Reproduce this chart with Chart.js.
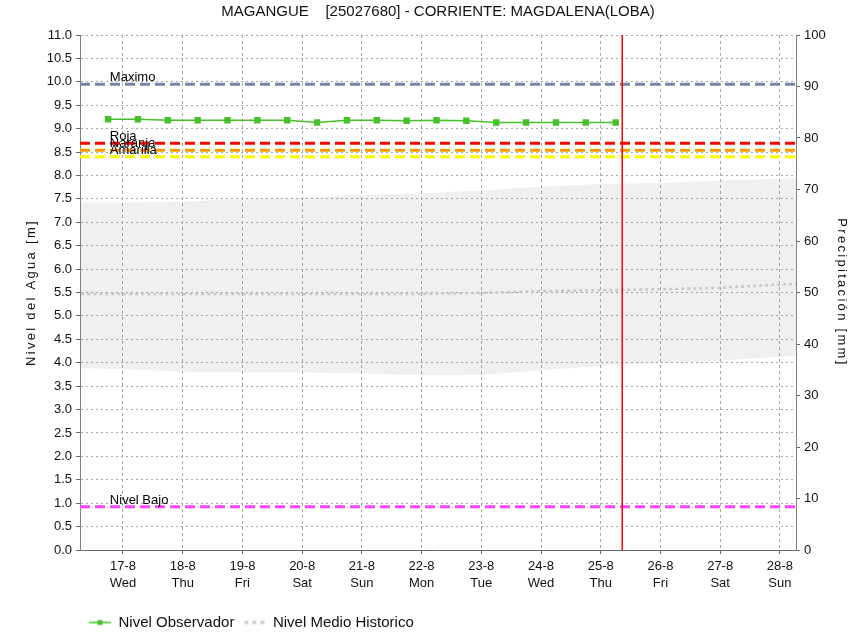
<!DOCTYPE html>
<html>
<head>
<meta charset="utf-8">
<script src="https://cdn.jsdelivr.net/npm/chart.js@4.4.0/dist/chart.umd.min.js"></script>
<style>
  html, body { margin: 0; padding: 0; background: #fff; }
  #wrap { width: 854px; height: 634px; }
</style>
</head>
<body>
<div id="wrap"><canvas id="nivelChart" width="854" height="634"></canvas></div>
<script>
// x values are days of August (17.5 = 17-8 12:00)
const xMin = 16.28;
const xMax = 28.27;
const dayTicks = [17, 18, 19, 20, 21, 22, 23, 24, 25, 26, 27, 28];
const dayLabels = ['17-8', '18-8', '19-8', '20-8', '21-8', '22-8', '23-8', '24-8', '25-8', '26-8', '27-8', '28-8'];
const weekDays = ['Wed', 'Thu', 'Fri', 'Sat', 'Sun', 'Mon', 'Tue', 'Wed', 'Thu', 'Fri', 'Sat', 'Sun'];
const levelTicks = [0, 0.5, 1, 1.5, 2, 2.5, 3, 3.5, 4, 4.5, 5, 5.5, 6, 6.5, 7, 7.5, 8, 8.5, 9, 9.5, 10, 10.5, 11];
const rainTicks = [0, 10, 20, 30, 40, 50, 60, 70, 80, 90, 100];

const obsTimes = [16.75, 17.25, 17.75, 18.25, 18.75, 19.25, 19.75, 20.25, 20.75,
                  21.25, 21.75, 22.25, 22.75, 23.25, 23.75, 24.25, 24.75, 25.25];
const obsLevels = [9.20, 9.20, 9.18, 9.18, 9.18, 9.18, 9.18, 9.13, 9.18,
                   9.18, 9.17, 9.18, 9.17, 9.13, 9.13, 9.13, 9.13, 9.13];

const histTimes = [16, 17, 18, 19, 20, 21, 22, 23, 24, 25, 26, 27, 28, 29];
const histHigh = [7.42, 7.42, 7.44, 7.50, 7.53, 7.58, 7.62, 7.68, 7.76, 7.82, 7.84, 7.89, 7.93, 7.96];
const histLow = [3.90, 3.86, 3.81, 3.79, 3.79, 3.77, 3.73, 3.74, 3.84, 3.93, 3.99, 4.05, 4.13, 4.18];
const histMean = [5.47, 5.47, 5.47, 5.47, 5.47, 5.47, 5.47, 5.49, 5.53, 5.55, 5.57, 5.60, 5.67, 5.72];

const alertNames = ['Maximo', 'Roja', 'Naranja', 'Amarilla', 'Nivel Bajo'];
const alertLevels = [9.95, 8.69, 8.54, 8.40, 0.925];
const alertColors = ['#7a82a8', '#ff0000', '#ff9900', '#ffff00', '#ff44ff'];

const nowTime = 25.36;

const fontFamily = '"Liberation Sans", Arial, sans-serif';
const green = '#47c12b';
const meanGray = '#c8c8c8';

function pairs(xs, ys) {
  return xs.map((x, i) => ({ x: x, y: ys[i] }));
}

// small legend symbols (line with marker / dashed line), with an empty left margin
function legendIcon(draw) {
  const c = document.createElement('canvas');
  c.width = 30;
  c.height = 8;
  draw(c.getContext('2d'));
  return c;
}
const obsIcon = legendIcon(g => {
  g.strokeStyle = green;
  g.lineWidth = 1.5;
  g.beginPath(); g.moveTo(8, 4); g.lineTo(30, 4); g.stroke();
  g.fillStyle = green;
  g.fillRect(16.5, 1.5, 5, 5);
});
const meanIcon = legendIcon(g => {
  g.strokeStyle = meanGray;
  g.lineWidth = 3;
  g.setLineDash([4, 4]);
  g.beginPath(); g.moveTo(9, 4); g.lineTo(30, 4); g.stroke();
});

const alertSets = alertNames.map((name, i) => ({
  label: name,
  data: [{ x: xMin, y: alertLevels[i] }, { x: xMax, y: alertLevels[i] }],
  borderColor: alertColors[i],
  borderWidth: 3,
  borderDash: [10, 5],
  pointRadius: 0,
  order: 3
}));

// alert names above their lines + spaced axis titles
const extraText = {
  id: 'extraText',
  afterDatasetsDraw(chart) {
    const { ctx, scales } = chart;
    ctx.save();
    ctx.font = '13px ' + fontFamily;
    ctx.fillStyle = '#000';
    ctx.textBaseline = 'alphabetic';
    alertNames.forEach((name, i) => {
      ctx.fillText(name, scales.x.getPixelForValue(16.78), scales.y.getPixelForValue(alertLevels[i]) - 3);
    });
    ctx.restore();
  },
  afterDraw(chart) {
    const { ctx, chartArea } = chart;
    const midY = (chartArea.top + chartArea.bottom) / 2;
    ctx.save();
    ctx.font = '13px ' + fontFamily;
    ctx.fillStyle = '#111';
    ctx.letterSpacing = '2.3px';
    ctx.textAlign = 'center';
    ctx.textBaseline = 'middle';
    ctx.save();
    ctx.translate(31, midY);
    ctx.rotate(-Math.PI / 2);
    ctx.fillText('Nivel del Agua [m]', 0, 0);
    ctx.restore();
    ctx.translate(842, midY);
    ctx.rotate(Math.PI / 2);
    ctx.fillText('Precipitación [mm]', 0, 0);
    ctx.restore();
  }
};

const ctx = document.getElementById('nivelChart').getContext('2d');

new Chart(ctx, {
  type: 'line',
  data: {
    datasets: [
      {
        label: 'Nivel Observador',
        data: pairs(obsTimes, obsLevels),
        borderColor: green,
        backgroundColor: green,
        borderWidth: 1.5,
        pointStyle: 'rect',
        pointRadius: 3.5,
        tension: 0,
        order: 0
      },
      {
        label: 'Nivel Medio Historico',
        data: pairs(histTimes, histMean),
        borderColor: meanGray,
        borderWidth: 2.5,
        borderDash: [3, 3],
        pointRadius: 0,
        order: 5
      },
      {
        label: 'Rango alto',
        data: pairs(histTimes, histHigh),
        borderColor: 'rgba(0,0,0,0)',
        borderWidth: 1,
        pointRadius: 0,
        backgroundColor: 'rgba(128,128,128,0.12)',
        fill: '+1',
        order: 9
      },
      {
        label: 'Rango bajo',
        data: pairs(histTimes, histLow),
        borderColor: 'rgba(0,0,0,0)',
        borderWidth: 1,
        pointRadius: 0,
        fill: false,
        order: 9
      },
      ...alertSets,
      {
        label: 'Ahora',
        data: [{ x: nowTime, y: 0 }, { x: nowTime, y: 11 }],
        borderColor: '#ff0000',
        borderWidth: 1.5,
        pointRadius: 0,
        order: 1
      }
    ]
  },
  options: {
    responsive: false,
    animation: false,
    layout: { padding: { top: 0, left: 0, right: 0, bottom: -6 } },
    scales: {
      x: {
        type: 'linear',
        min: xMin,
        max: xMax,
        afterBuildTicks: s => { s.ticks = dayTicks.map(v => ({ value: v })); },
        afterFit: s => { s.height = 64; },
        grid: {
          color: '#a8a8a8',
          tickLength: 4,
          tickColor: '#666',
          tickBorderDash: []
        },
        border: { color: '#666', width: 1, dash: [3, 3] },
        ticks: {
          autoSkip: false,
          maxRotation: 0,
          padding: 4,
          color: '#111',
          font: { family: fontFamily, size: 13, lineHeight: 1.3 },
          callback: (v, i) => [dayLabels[i], weekDays[i]]
        }
      },
      y: {
        position: 'left',
        min: 0,
        max: 11,
        afterBuildTicks: s => { s.ticks = levelTicks.map(v => ({ value: v })); },
        afterFit: s => { s.width = 80; },
        grid: {
          color: '#a8a8a8',
          tickLength: 4,
          tickColor: '#666',
          tickBorderDash: []
        },
        border: { color: '#808080', width: 1, dash: [2, 3] },
        ticks: {
          autoSkip: false,
          padding: 4,
          color: '#111',
          font: { family: fontFamily, size: 13 },
          callback: v => v.toFixed(1)
        }
      },
      yRain: {
        position: 'right',
        min: 0,
        max: 100,
        afterBuildTicks: s => { s.ticks = rainTicks.map(v => ({ value: v })); },
        afterFit: s => { s.width = 58; },
        grid: {
          drawOnChartArea: false,
          tickLength: 4,
          tickColor: '#666'
        },
        border: { color: '#808080', width: 1 },
        ticks: {
          autoSkip: false,
          padding: 4,
          color: '#111',
          font: { family: fontFamily, size: 13 }
        }
      }
    },
    plugins: {
      title: {
        display: true,
        fullSize: false,
        text: 'MAGANGUE    [25027680] - CORRIENTE: MAGDALENA(LOBA)',
        color: '#111',
        padding: { top: 3, bottom: 14 },
        font: { family: fontFamily, size: 15, weight: 'normal' }
      },
      legend: {
        display: true,
        position: 'bottom',
        align: 'start',
        fullSize: false,
        labels: {
          color: '#111',
          padding: 1,
          usePointStyle: true,
          pointStyleWidth: 30,
          font: { family: fontFamily, size: 15 },
          filter: item => item.datasetIndex < 2,
          generateLabels: chart => Chart.defaults.plugins.legend.labels.generateLabels(chart).map(item => {
            item.pointStyle = item.datasetIndex === 0 ? obsIcon : meanIcon;
            return item;
          })
        }
      },
      tooltip: { enabled: false }
    }
  },
  plugins: [extraText]
});
</script>
</body>
</html>
